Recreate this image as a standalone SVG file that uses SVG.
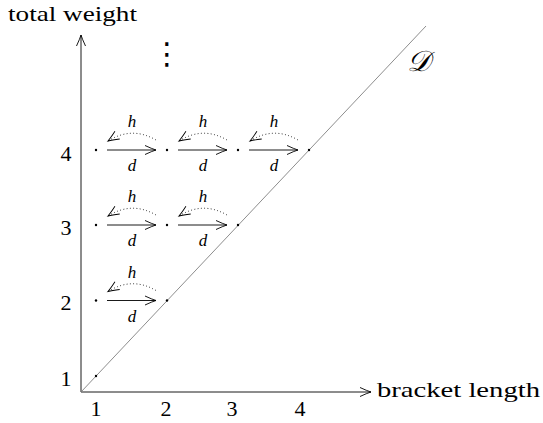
<svg xmlns="http://www.w3.org/2000/svg" width="543" height="423" viewBox="0 0 543 423">
<style>
.ax{stroke:#000;stroke-width:0.9;fill:none}
.diag{stroke:#808080;stroke-width:0.9;fill:none}
.sol{stroke:#000;stroke-width:0.9;fill:none;marker-end:url(#tip)}
.dot{stroke:#000;stroke-width:0.9;fill:none;stroke-dasharray:0.9 2.4;marker-end:url(#tip)}
.lbl{font-family:"Liberation Serif","DejaVu Serif",serif;font-size:22px;fill:#000}
.num{font-family:"Liberation Serif","DejaVu Serif",serif;font-size:22px;fill:#000;text-anchor:middle}
.it{font-family:"Liberation Serif","DejaVu Serif",serif;font-size:17px;font-style:italic;fill:#000;text-anchor:middle}
.pt{fill:#000}
</style>
<defs>
<marker id="tip" markerUnits="userSpaceOnUse" markerWidth="14" markerHeight="14" refX="0" refY="0" orient="auto" overflow="visible">
<path d="M-11,-4.5 Q-4,-1.2 0,0 Q-4,1.2 -11,4.5" fill="none" stroke="#000" stroke-width="0.9"/>
</marker>
</defs>
<g id="axes">
<line class="ax" x1="81" y1="392" x2="81" y2="35" style="marker-end:url(#tip)"/>
<line class="ax" x1="81" y1="392" x2="371" y2="392" style="marker-end:url(#tip)"/>
<line class="diag" x1="81" y1="392" x2="426" y2="26"/>
</g>
<g id="axis-labels">
<text class="lbl" x="8" y="21" textLength="129" lengthAdjust="spacingAndGlyphs">total weight</text>
<text class="lbl" x="377" y="397" textLength="163" lengthAdjust="spacingAndGlyphs">bracket length</text>
<text class="num" x="96" y="416">1</text>
<text class="num" x="166" y="416">2</text>
<text class="num" x="232" y="416">3</text>
<text class="num" x="300" y="416">4</text>
<text class="num" x="66" y="386">1</text>
<text class="num" x="66" y="310">2</text>
<text class="num" x="66" y="235">3</text>
<text class="num" x="66" y="161">4</text>
<text x="418" y="71" font-family="'DejaVu Serif',serif" font-size="29" font-style="italic" text-anchor="middle">𝒟</text>
<text x="167" y="64" font-family="'Noto Sans CJK JP','DejaVu Sans',sans-serif" font-size="30" text-anchor="middle">⋮</text>
</g>
<g id="n-1-1"><circle class="pt" cx="96" cy="376" r="1.2"/></g>
<g id="n-1-2"><circle class="pt" cx="96" cy="300.5" r="1.2"/></g>
<g id="n-2-2"><circle class="pt" cx="167" cy="300.5" r="1.2"/></g>
<g id="n-1-3"><circle class="pt" cx="96" cy="225" r="1.2"/></g>
<g id="n-2-3"><circle class="pt" cx="167" cy="225" r="1.2"/></g>
<g id="n-3-3"><circle class="pt" cx="238" cy="225" r="1.2"/></g>
<g id="n-1-4"><circle class="pt" cx="96" cy="150" r="1.2"/></g>
<g id="n-2-4"><circle class="pt" cx="167" cy="150" r="1.2"/></g>
<g id="n-3-4"><circle class="pt" cx="238" cy="150" r="1.2"/></g>
<g id="n-4-4"><circle class="pt" cx="309" cy="150" r="1.2"/></g>
<g id="connectors">
<path class="sol" d="M107,150 H156"/><path class="dot" d="M156,140 Q132,126 108,141"/>
<text class="it" x="132" y="127">h</text><text class="it" x="132" y="171">d</text>
<path class="sol" d="M178,150 H227"/><path class="dot" d="M227,140 Q203,126 179,141"/>
<text class="it" x="203" y="127">h</text><text class="it" x="203" y="171">d</text>
<path class="sol" d="M249,150 H298"/><path class="dot" d="M298,140 Q274,126 250,141"/>
<text class="it" x="274" y="127">h</text><text class="it" x="274" y="171">d</text>
<path class="sol" d="M107,225 H156"/><path class="dot" d="M156,215 Q132,201 108,216"/>
<text class="it" x="132" y="202">h</text><text class="it" x="132" y="246">d</text>
<path class="sol" d="M178,225 H227"/><path class="dot" d="M227,215 Q203,201 179,216"/>
<text class="it" x="203" y="202">h</text><text class="it" x="203" y="246">d</text>
<path class="sol" d="M107,300.5 H156"/><path class="dot" d="M156,290.5 Q132,276.5 108,291.5"/>
<text class="it" x="132" y="277.5">h</text><text class="it" x="132" y="321.5">d</text>
</g>
</svg>
